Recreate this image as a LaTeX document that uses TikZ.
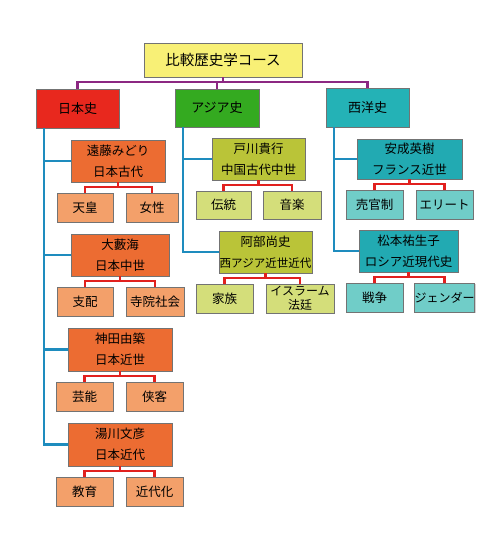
\documentclass[tikz,border=0pt]{standalone}
\usepackage{fontspec}
\setmainfont{Noto Sans CJK JP}
\usepackage{tikz}
\usetikzlibrary{shadows}
\definecolor{topfill}{RGB}{248,240,118}
\definecolor{jpfill}{RGB}{232,40,30}
\definecolor{asfill}{RGB}{52,170,32}
\definecolor{wefill}{RGB}{36,178,182}
\definecolor{jpdark}{RGB}{236,108,50}
\definecolor{jplight}{RGB}{243,160,106}
\definecolor{asdark}{RGB}{186,196,56}
\definecolor{aslight}{RGB}{212,222,122}
\definecolor{wedark}{RGB}{34,170,178}
\definecolor{welight}{RGB}{112,205,200}
\definecolor{blueline}{RGB}{30,140,190}
\definecolor{redline}{RGB}{225,32,30}
\definecolor{purpline}{RGB}{140,40,130}
\tikzstyle{box}=[draw=black!55, inner sep=0pt, align=center, font=\fontsize{12.5}{21}\selectfont, drop shadow={shadow xshift=1pt, shadow yshift=-1.2pt, opacity=0.35}]
\tikzstyle{teacher}=[box, minimum height=42pt]
\tikzstyle{theme}=[box, minimum width=57pt, minimum height=29pt]
\tikzstyle{bl}=[blueline, line width=2.2pt]
\tikzstyle{rl}=[redline, line width=2.2pt]

\begin{document}
\begin{tikzpicture}[x=1pt,y=-1pt]
    \useasboundingbox (0,0) rectangle (500,552);

    %course
    \node [box, fill=topfill, minimum width=158pt, minimum height=34pt, font=\fontsize{14.5}{16}\selectfont] (top) at (223,60) {比較歴史学コース};
    \node [box, fill=jpfill, minimum width=83pt, minimum height=39pt, font=\fontsize{13}{15}\selectfont] (jp) at (77.5,108.5) {日本史};
    \node [box, fill=asfill, minimum width=84pt, minimum height=38pt, font=\fontsize{13}{15}\selectfont] (as) at (217,108) {アジア史};
    \node [box, fill=wefill, minimum width=83pt, minimum height=39pt, font=\fontsize{13}{15}\selectfont] (we) at (367.5,107.5) {西洋史};

    %japan
    \node [teacher, fill=jpdark, minimum width=94pt] (jp1) at (118,161) {遠藤みどり\\日本古代};
    \node [theme, fill=jplight, minimum width=56pt] (jp1a) at (85,207.5) {天皇};
    \node [theme, fill=jplight, minimum width=52pt] (jp1b) at (152,207.5) {女性};
    \node [teacher, fill=jpdark, minimum width=98pt] (jp2) at (120,255) {大藪海\\日本中世};
    \node [theme, fill=jplight, minimum width=56pt] (jp2a) at (85,301.5) {支配};
    \node [theme, fill=jplight, minimum width=58pt] (jp2b) at (155,301.5) {寺院社会};
    \node [teacher, fill=jpdark, minimum width=104pt, minimum height=43pt] (jp3) at (120,349.5) {神田由築\\日本近世};
    \node [theme, fill=jplight] (jp3a) at (84.5,396.5) {芸能};
    \node [theme, fill=jplight] (jp3b) at (154.5,396.5) {侠客};
    \node [teacher, fill=jpdark, minimum width=104pt, minimum height=43pt] (jp4) at (120,444.5) {湯川文彦\\日本近代};
    \node [theme, fill=jplight] (jp4a) at (84.5,491.5) {教育};
    \node [theme, fill=jplight] (jp4b) at (154.5,491.5) {近代化};

    %asia
    \node [teacher, fill=asdark, minimum width=93pt] (as1) at (258.5,159) {戸川貴行\\中国古代中世};
    \node [theme, fill=aslight, minimum width=55pt, minimum height=28pt] (as1a) at (223.5,205) {伝統};
    \node [theme, fill=aslight, minimum width=58pt, minimum height=28pt] (as1b) at (292,205) {音楽};
    \node [teacher, fill=asdark, minimum width=93pt, font=\fontsize{11.5}{21}\selectfont] (as2) at (265.5,252) {{\fontsize{12.5}{21}\selectfont 阿部尚史}\\西アジア近世近代};
    \node [theme, fill=aslight] (as2a) at (224.5,298.5) {家族};
    \node [theme, fill=aslight, minimum width=68pt, font=\fontsize{12}{14}\selectfont] (as2b) at (300,298.5) {イスラーム\\法廷};

    %west
    \node [teacher, fill=wedark, minimum width=105pt, minimum height=40pt] (we1) at (409.5,159) {安成英樹\\フランス近世};
    \node [theme, fill=welight] (we1a) at (374.5,204.5) {売官制};
    \node [theme, fill=welight] (we1b) at (444.5,204.5) {エリート};
    \node [teacher, fill=wedark, minimum width=99pt] (we2) at (408.5,251) {松本祐生子\\ロシア近現代史};
    \node [theme, fill=welight] (we2a) at (374.5,297.5) {戦争};
    \node [theme, fill=welight, font=\fontsize{12}{21}\selectfont] (we2b) at (444.5,297.5) {ジェンダー};

    %course lines
    \foreach \c in {jp,as,we}{\draw [purpline, line width=2.2pt] (top.south) -- ++(0,5) -| (\c.north);}

    %teacher lines
    \foreach \t in {jp1,jp2,jp3,jp4}{\draw [bl] ([xshift=8pt]jp.south west) |- (\t.west);}
    \foreach \t in {as1,as2}{\draw [bl] ([xshift=8pt]as.south west) |- (\t.west);}
    \foreach \t in {we1,we2}{\draw [bl] ([xshift=8pt]we.south west) |- (\t.west);}

    %theme lines
    \foreach \t in {jp1,jp2,jp3,jp4,as1,as2,we1,we2}{
        \draw [rl] (\t.south) -- ++(0,5) -| (\t a.north);
        \draw [rl] (\t.south) -- ++(0,5) -| (\t b.north);
    }

\end{tikzpicture}
\end{document}
